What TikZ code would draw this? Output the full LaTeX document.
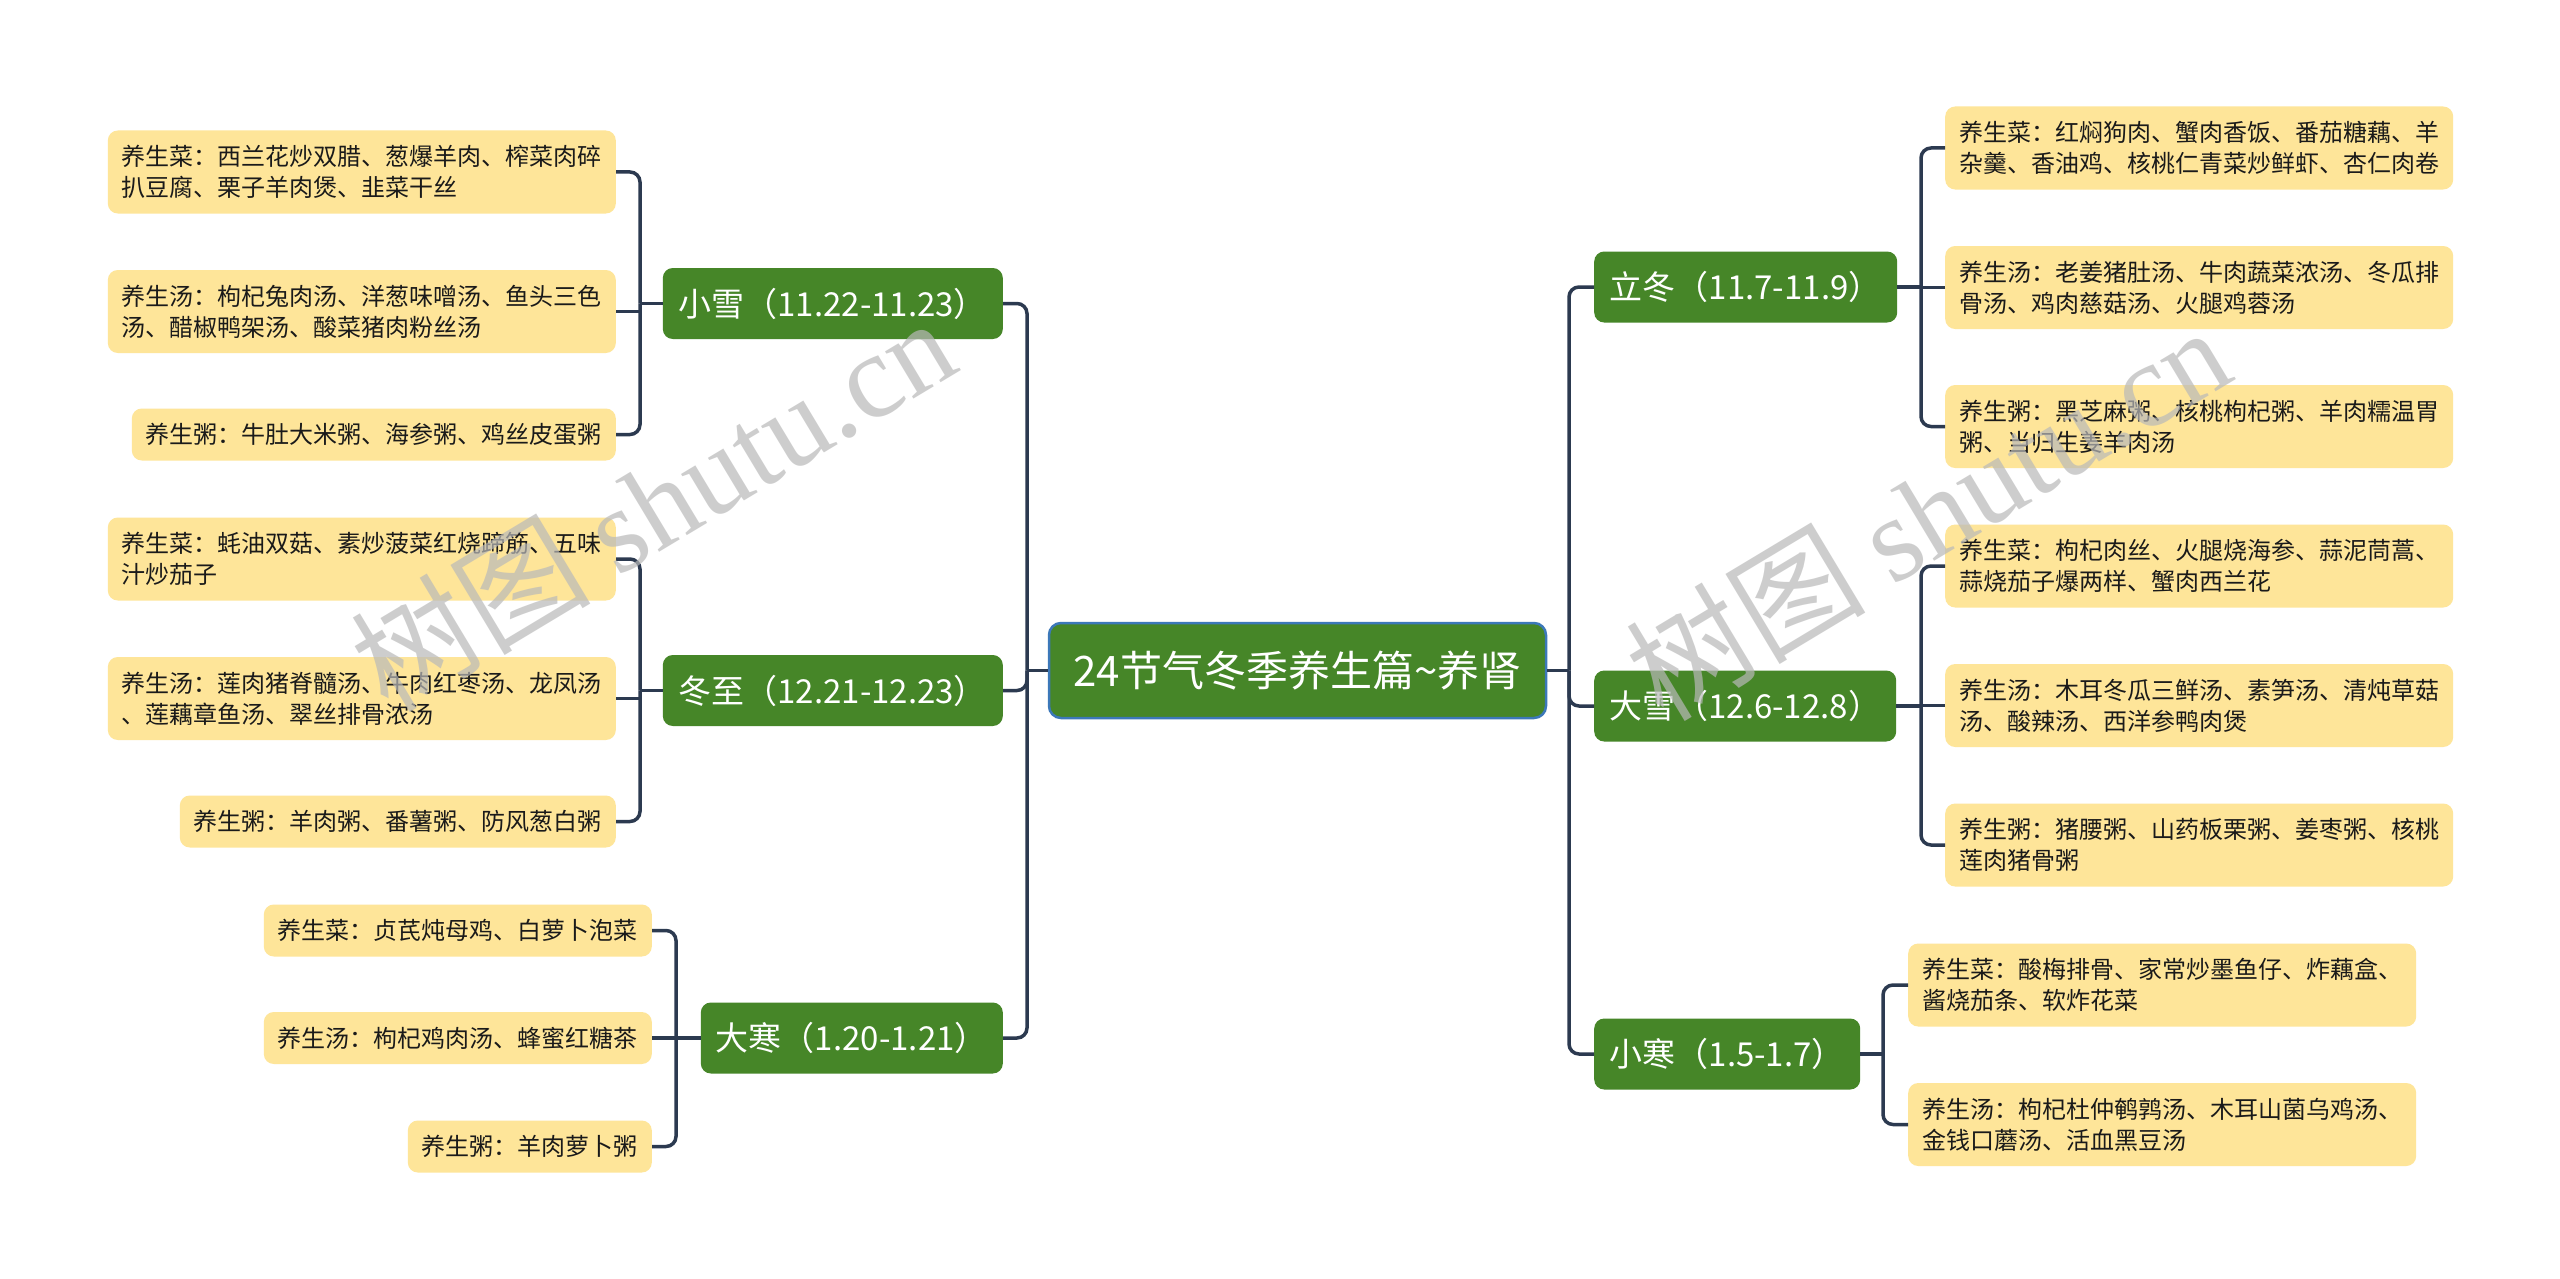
\documentclass[tikz,border=0pt]{standalone}
\usepackage{fontspec}
\setmainfont{Noto Sans CJK SC}
\newfontfamily\wmserif{Liberation Serif}
\definecolor{greenc}{RGB}{70,134,40}
\definecolor{leafc}{RGB}{254,229,153}
\definecolor{linec}{RGB}{44,58,80}
\definecolor{rootb}{RGB}{60,120,185}
\definecolor{textc}{RGB}{26,26,26}
\definecolor{wmc}{RGB}{185,185,185}
\begin{document}
\begin{tikzpicture}[x=1pt,y=-1pt,
  leaf/.style={fill=leafc, rounded corners=10pt, inner xsep=14pt, inner ysep=2pt, font=\fontsize{24}{31}\selectfont, text=textc, align=left},
  one/.style={leaf, minimum height=52pt},
  two/.style={leaf, minimum height=83pt},
  lvl/.style={fill=greenc, rounded corners=10pt, text=white, font=\fontsize{33}{40}\selectfont, minimum height=71pt, inner xsep=4pt},
  conn/.style={draw=linec, line width=3.5pt, rounded corners=10pt},
  wm/.style={text=wmc, opacity=0.7, rotate=31, font=\fontsize{120}{125}\selectfont},
]
\path[fill=white, use as bounding box] (0,0) rectangle (2560,1279);

% root
\node[fill=greenc, draw=rootb, line width=2.5pt, rounded corners=12pt, text=white,
      font=\fontsize{42}{50}\selectfont, minimum width=497pt, minimum height=95pt]
      (root) at (1297.5,670.5) {24节气冬季养生篇\textasciitilde 养肾};

% level 1 left
\node[lvl, anchor=east, minimum width=340pt] (xs) at (1003,303.5) {小雪（11.22-11.23）};
\node[lvl, anchor=east, minimum width=340pt] (dz) at (1003,690.5) {冬至（12.21-12.23）};
\node[lvl, anchor=east, minimum width=302pt] (dh) at (1003,1038) {大寒（1.20-1.21）};
% level 1 right
\node[lvl, anchor=west, minimum width=303pt] (ld) at (1594,287) {立冬（11.7-11.9）};
\node[lvl, anchor=west, minimum width=302pt] (dx) at (1594,706) {大雪（12.6-12.8）};
\node[lvl, anchor=west, minimum width=266pt] (xh) at (1594,1054) {小寒（1.5-1.7）};

% leaves: 小雪
\node[two, anchor=east] (xs1) at (616,172) {养生菜：西兰花炒双腊、葱爆羊肉、榨菜肉碎\\扒豆腐、栗子羊肉煲、韭菜干丝};
\node[two, anchor=east] (xs2) at (616,311.5) {养生汤：枸杞兔肉汤、洋葱味噌汤、鱼头三色\\汤、醋椒鸭架汤、酸菜猪肉粉丝汤};
\node[one, anchor=east] (xs3) at (616,434.5) {养生粥：牛肚大米粥、海参粥、鸡丝皮蛋粥};
% leaves: 冬至
\node[two, anchor=east] (dz1) at (616,559) {养生菜：蚝油双菇、素炒菠菜红烧蹄筋、五味\\汁炒茄子};
\node[two, anchor=east] (dz2) at (616,698.5) {养生汤：莲肉猪脊髓汤、牛肉红枣汤、龙凤汤\\、莲藕章鱼汤、翠丝排骨浓汤};
\node[one, anchor=east] (dz3) at (616,821.5) {养生粥：羊肉粥、番薯粥、防风葱白粥};
% leaves: 大寒
\node[one, anchor=east] (dh1) at (652,930.5) {养生菜：贞芪炖母鸡、白萝卜泡菜};
\node[one, anchor=east] (dh2) at (652,1038) {养生汤：枸杞鸡肉汤、蜂蜜红糖茶};
\node[one, anchor=east] (dh3) at (652,1146.5) {养生粥：羊肉萝卜粥};
% leaves: 立冬
\node[two, anchor=west] (ld1) at (1945,148) {养生菜：红焖狗肉、蟹肉香饭、番茄糖藕、羊\\杂羹、香油鸡、核桃仁青菜炒鲜虾、杏仁肉卷};
\node[two, anchor=west] (ld2) at (1945,287.5) {养生汤：老姜猪肚汤、牛肉蔬菜浓汤、冬瓜排\\骨汤、鸡肉慈菇汤、火腿鸡蓉汤};
\node[two, anchor=west] (ld3) at (1945,426.5) {养生粥：黑芝麻粥、核桃枸杞粥、羊肉糯温胃\\粥、当归生姜羊肉汤};
% leaves: 大雪
\node[two, anchor=west] (dx1) at (1945,566) {养生菜：枸杞肉丝、火腿烧海参、蒜泥茼蒿、\\蒜烧茄子爆两样、蟹肉西兰花};
\node[two, anchor=west] (dx2) at (1945,705.5) {养生汤：木耳冬瓜三鲜汤、素笋汤、清炖草菇\\汤、酸辣汤、西洋参鸭肉煲};
\node[two, anchor=west] (dx3) at (1945,845) {养生粥：猪腰粥、山药板栗粥、姜枣粥、核桃\\莲肉猪骨粥};
% leaves: 小寒
\node[two, anchor=west] (xh1) at (1908,985) {养生菜：酸梅排骨、家常炒墨鱼仔、炸藕盒、\\酱烧茄条、软炸花菜};
\node[two, anchor=west] (xh2) at (1908,1124.5) {养生汤：枸杞杜仲鹌鹑汤、木耳山菌乌鸡汤、\\金钱口蘑汤、活血黑豆汤};

% bus coordinates
\coordinate (cRL) at (1027,670.5);
\coordinate (cRR) at (1569,670.5);
\coordinate (bxs) at (640,303.5);
\coordinate (bdz) at (640,690.5);
\coordinate (bdh) at (676,1038);
\coordinate (bld) at (1921,287);
\coordinate (bdx) at (1921,706);
\coordinate (bxh) at (1883,1054);

% main connectors
\draw[conn] (cRL) -- (root.west);
\draw[conn] (root.east) -- (cRR);
\draw[conn] (xs.east) -| (cRL);
\draw[conn] (dz.east) -| (cRL);
\draw[conn] (dh.east) -| (cRL);
\draw[conn] (ld.west) -| (cRR);
\draw[conn] (dx.west) -| (cRR);
\draw[conn] (xh.west) -| (cRR);

% 小雪
\draw[conn] (bxs) -- (xs.west);
\draw[conn] (xs1.east) -| (bxs);
\draw[conn] (xs2.east) -- (xs2.east -| bxs);
\draw[conn] (xs3.east) -| (bxs);
% 冬至
\draw[conn] (bdz) -- (dz.west);
\draw[conn] (dz1.east) -| (bdz);
\draw[conn] (dz2.east) -- (dz2.east -| bdz);
\draw[conn] (dz3.east) -| (bdz);
% 大寒
\draw[conn] (bdh) -- (dh.west);
\draw[conn] (dh1.east) -| (bdh);
\draw[conn] (dh2.east) -- (bdh);
\draw[conn] (dh3.east) -| (bdh);
% 立冬
\draw[conn] (ld.east) -- (bld);
\draw[conn] (ld1.west) -| (bld);
\draw[conn] (ld2.west) -- (ld2.west -| bld);
\draw[conn] (ld3.west) -| (bld);
% 大雪
\draw[conn] (dx.east) -- (bdx);
\draw[conn] (dx1.west) -| (bdx);
\draw[conn] (dx2.west) -- (dx2.west -| bdx);
\draw[conn] (dx3.west) -| (bdx);
% 小寒
\draw[conn] (xh.east) -- (bxh);
\draw[conn] (xh1.west) -| (bxh);
\draw[conn] (xh2.west) -| (bxh);

% watermark
\node[wm] (wm1) at (652,503) {树图 {\wmserif shutu.cn}};
\node[wm] (wm2) at (1927,512) {树图 {\wmserif shutu.cn}};
\end{tikzpicture}
\end{document}
